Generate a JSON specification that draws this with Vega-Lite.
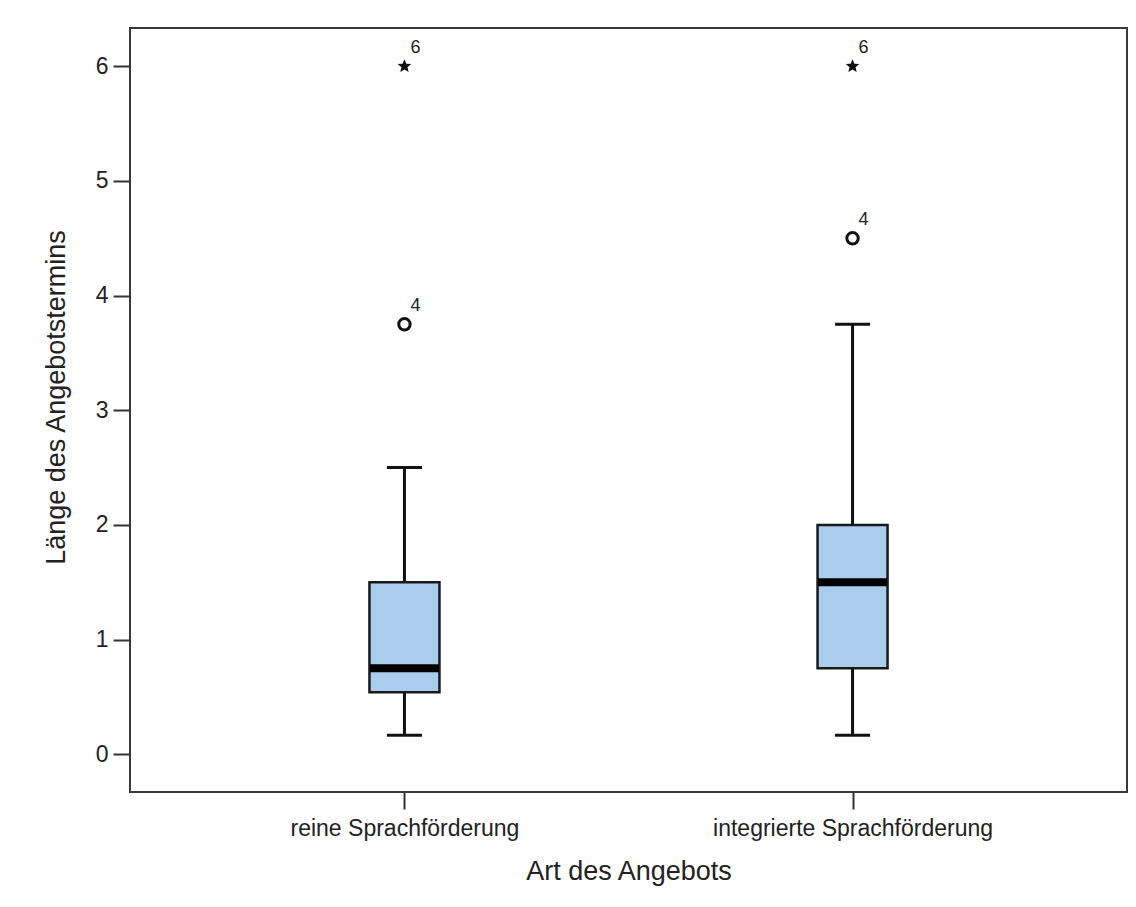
{
  "$schema": "https://vega.github.io/schema/vega-lite/v6.json",
  "width": 997,
  "height": 764,
  "autosize": {"type": "none"},
  "padding": {"left": 130, "top": 28, "right": 9, "bottom": 115},
  "background": "white",
  "config": {
    "font": "Liberation Sans",
    "view": {"stroke": "#3a3a3a", "strokeWidth": 2},
    "axis": {
      "grid": false,
      "domain": false,
      "tickColor": "#333333",
      "tickWidth": 2,
      "tickSize": 17,
      "labelColor": "#222222",
      "titleColor": "#222222",
      "titleFontWeight": "normal",
      "labelFontSize": 23,
      "titleFontSize": 27,
      "labelLimit": 0
    }
  },
  "datasets": {
    "summary": [
      {"Art": "reine Sprachförderung", "min": 0.1667, "q1": 0.54, "median": 0.75, "q3": 1.5, "max": 2.5},
      {"Art": "integrierte Sprachförderung", "min": 0.1667, "q1": 0.75, "median": 1.5, "q3": 2.0, "max": 3.75}
    ],
    "outliers": [
      {"Art": "reine Sprachförderung", "value": 3.75, "typ": "Ausreißer", "fall": "4"},
      {"Art": "reine Sprachförderung", "value": 6, "typ": "Extremwert", "fall": "6"},
      {"Art": "integrierte Sprachförderung", "value": 4.5, "typ": "Ausreißer", "fall": "4"},
      {"Art": "integrierte Sprachförderung", "value": 6, "typ": "Extremwert", "fall": "6"}
    ]
  },
  "encoding": {
    "x": {
      "field": "Art",
      "type": "nominal",
      "sort": ["reine Sprachförderung", "integrierte Sprachförderung"],
      "scale": {"type": "point", "padding": 0.6125},
      "title": "Art des Angebots",
      "axis": {"labelAngle": 0, "labelPadding": 8, "titlePadding": 18}
    }
  },
  "layer": [
    {
      "data": {"name": "summary"},
      "mark": {"type": "rule", "color": "#111111", "strokeWidth": 3, "opacity": 1},
      "encoding": {
        "y": {
          "field": "min",
          "type": "quantitative",
          "scale": {"domain": [-0.329, 6.334], "nice": false, "zero": false},
          "title": "Länge des Angebotstermins",
          "axis": {"values": [0, 1, 2, 3, 4, 5, 6], "format": "d", "labelPadding": 5, "titlePadding": 25, "titleY": 369}
        },
        "y2": {"field": "max"}
      }
    },
    {
      "data": {"name": "summary"},
      "mark": {"type": "tick", "color": "#111111", "size": 35, "thickness": 3, "opacity": 1},
      "encoding": {"y": {"field": "min", "type": "quantitative", "title": "Länge des Angebotstermins"}}
    },
    {
      "data": {"name": "summary"},
      "mark": {"type": "tick", "color": "#111111", "size": 35, "thickness": 3, "opacity": 1},
      "encoding": {"y": {"field": "max", "type": "quantitative", "title": "Länge des Angebotstermins"}}
    },
    {
      "data": {"name": "summary"},
      "mark": {"type": "bar", "size": 70, "fill": "#aacdee", "stroke": "#1a1a1a", "strokeWidth": 2.5, "opacity": 1},
      "encoding": {
        "y": {"field": "q1", "type": "quantitative", "title": "Länge des Angebotstermins"},
        "y2": {"field": "q3"}
      }
    },
    {
      "data": {"name": "summary"},
      "mark": {"type": "tick", "color": "#000000", "size": 69, "thickness": 8, "opacity": 1},
      "encoding": {"y": {"field": "median", "type": "quantitative", "title": "Länge des Angebotstermins"}}
    },
    {
      "data": {"name": "outliers"},
      "transform": [{"filter": "datum.typ === 'Ausreißer'"}],
      "mark": {"type": "point", "shape": "circle", "filled": false, "stroke": "#111111", "strokeWidth": 3, "size": 130, "opacity": 1},
      "encoding": {"y": {"field": "value", "type": "quantitative", "title": "Länge des Angebotstermins"}}
    },
    {
      "data": {"name": "outliers"},
      "transform": [{"filter": "datum.typ === 'Extremwert'"}],
      "mark": {
        "type": "point",
        "shape": "M0,-1L0.2645,-0.3641L0.9511,-0.309L0.428,0.1391L0.5878,0.809L0,0.45L-0.5878,0.809L-0.428,0.1391L-0.9511,-0.309L-0.2645,-0.3641Z",
        "filled": true,
        "color": "#111111",
        "size": 200,
        "opacity": 1
      },
      "encoding": {"y": {"field": "value", "type": "quantitative", "title": "Länge des Angebotstermins"}}
    },
    {
      "data": {"name": "outliers"},
      "mark": {"type": "text", "align": "left", "baseline": "middle", "dx": 6, "dy": -18, "fontSize": 18, "color": "#222222", "opacity": 1},
      "encoding": {
        "y": {"field": "value", "type": "quantitative", "title": "Länge des Angebotstermins"},
        "text": {"field": "fall"}
      }
    }
  ]
}
